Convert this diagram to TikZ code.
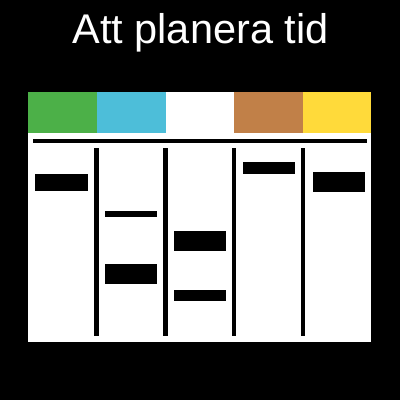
\documentclass[tikz,border=0pt]{standalone}
\usepackage{fontspec}
\setmainfont{Liberation Sans}
\definecolor{cgreen}{RGB}{76,176,72}
\definecolor{ccyan}{RGB}{77,190,217}
\definecolor{cbrown}{RGB}{193,128,72}
\definecolor{cyellow}{RGB}{255,218,58}
\begin{document}
\begin{tikzpicture}[x=1pt,y=-1pt,
  bar/.style={fill=black},
  sep/.style={fill=black}]
\useasboundingbox (0,0) rectangle (400,400);
\fill[black] (0,0) rectangle (400,400);
\node[text=white,font=\fontsize{41.5}{41.5}\selectfont,anchor=base,inner sep=0pt] (title) at (200.5,43.5) {Att planera tid};
% board
\fill[white] (28.3,92.3) rectangle (371,342);
\fill[cgreen] (28.3,92.3) rectangle (96.7,133.3);
\fill[ccyan] (96.7,92.3) rectangle (165.7,133.3);
\fill[cbrown] (234,92.3) rectangle (303.3,133.3);
\fill[cyellow] (303.3,92.3) rectangle (371,133.3);
% horizontal rule
\fill[sep] (32.7,139) rectangle (366.7,143.3);
% vertical separators
\fill[sep] (94,147.7) rectangle (98.7,335.7);
\fill[sep] (163.3,147.7) rectangle (167.7,335.7);
\fill[sep] (232,147.7) rectangle (236.3,335.7);
\fill[sep] (300.7,147.7) rectangle (305.3,335.7);
% bars
\fill[bar] (35,174) rectangle (87.7,191);
\fill[bar] (105,211.3) rectangle (157,217.3);
\fill[bar] (105,264.3) rectangle (157,284.3);
\fill[bar] (173.7,231) rectangle (225.7,251);
\fill[bar] (173.7,290) rectangle (225.7,301.3);
\fill[bar] (242.7,162) rectangle (294.7,174.3);
\fill[bar] (312.7,172) rectangle (364.7,192.3);
\end{tikzpicture}
\end{document}
